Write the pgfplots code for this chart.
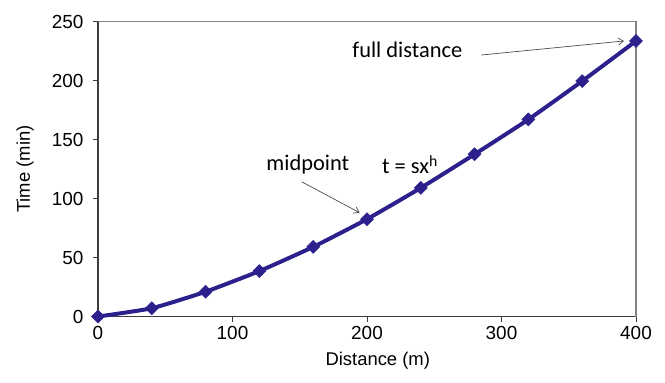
\documentclass[border=0pt]{standalone}
\usepackage{pgfplots}
\pgfplotsset{compat=1.18}
\usepackage{fontspec}
\setmainfont{Liberation Sans}
\newfontfamily\annfont{Carlito}
\usetikzlibrary{arrows.meta}
\definecolor{navyline}{RGB}{44,32,140}
\definecolor{axisdark}{RGB}{60,60,60}
\definecolor{framegray}{RGB}{130,130,130}
\begin{document}
\begin{tikzpicture}
\begin{axis}[
  scale only axis,
  width=538bp, height=295bp,
  xmin=0, xmax=400, ymin=0, ymax=250,
  xtick={0,100,200,300,400},
  ytick={0,50,100,150,200,250},
  axis lines*=left,
  axis line style={axisdark, line width=1.3pt},
  tick style={axisdark, line width=1pt},
  tick align=outside,
  major tick length=5bp,
  /pgf/number format/assume math mode=true,
  ticklabel style={font=\fontsize{19}{21}\selectfont},
  xticklabel style={yshift=-1bp},
  yticklabel style={xshift=-6bp},
  label style={font=\fontsize{18.5}{20}\selectfont},
  xlabel={Distance (m)},
  ylabel={Time (min)},
  xlabel style={at={(axis description cs:0.52,0)}, anchor=center, yshift=-44bp},
  ylabel style={at={(axis description cs:0,0.5)}, anchor=center, rotate=0, yshift=73bp},
  clip=false,
]
\draw[framegray, line width=1.3pt] (rel axis cs:0,1) -- (rel axis cs:1,1) -- (rel axis cs:1,0);
\addplot[navyline, line width=4pt, smooth, tension=0.3,
  mark=square*, mark size=4.6bp, mark options={rotate=45, fill=navyline, draw=navyline, line width=0.5pt}]
  coordinates {
  (0,0) (40,7) (80,21) (120,38.5) (160,59) (200,82.5) (240,109) (280,137.5) (320,167) (360,199.5) (400,233.5)
  };
\node[font=\annfont\fontsize{22.5}{24}\selectfont] at (axis cs:230,226) {full distance};
\draw[-{Straight Barb[length=5bp,width=7bp]}, black!70, line width=0.7pt] (axis cs:285,221.6) -- (axis cs:391,233.5);
\node[font=\annfont\fontsize{22.5}{24}\selectfont] at (axis cs:156,128.5) {midpoint};
\draw[-{Straight Barb[length=5bp,width=7bp]}, black!70, line width=0.7pt] (axis cs:151.4,114.2) -- (axis cs:194.5,88);
\node[font=\annfont\fontsize{22.5}{24}\selectfont] at (axis cs:232,128.5) {t = sx\textsuperscript{h}};
\end{axis}
\pgfresetboundingbox
\path[use as bounding box] ([xshift=-98bp,yshift=-66.5bp]current axis.south west) rectangle ([xshift=29bp,yshift=21.5bp]current axis.north east);
\end{tikzpicture}
\end{document}
